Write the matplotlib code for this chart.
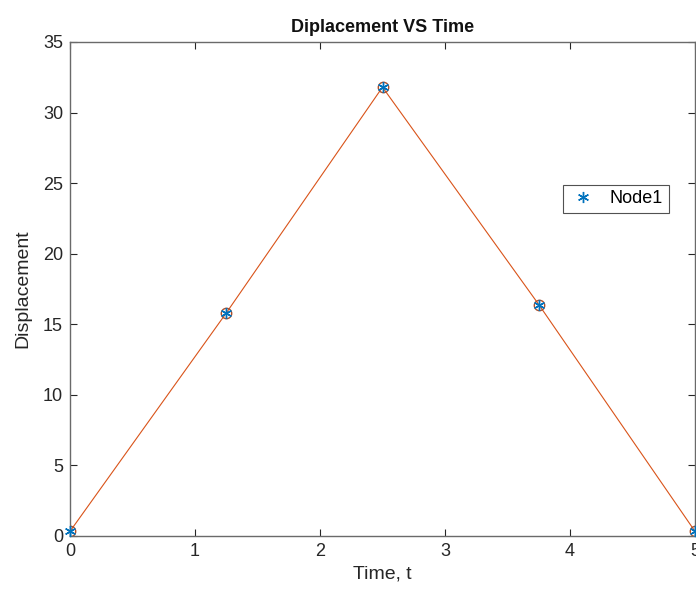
import matplotlib
matplotlib.use("Agg")
import matplotlib.pyplot as plt

t = [0, 1.25, 2.5, 3.75, 5]
disp = [0.33, 15.8, 31.8, 16.4, 0.33]
xticks = [0, 1, 2, 3, 4, 5]
yticks = [0, 5, 10, 15, 20, 25, 30, 35]

plt.rcParams['font.family'] = ['Liberation Sans', 'DejaVu Sans']

fig = plt.figure(figsize=(6.96, 5.95), dpi=100)
ax = fig.add_axes([70/696, 59/595, 625/696, 494/595])

blue = '#0072BD'
orange = '#D95319'
ax.plot(t, disp, '-', color=orange, lw=0.8, marker='o', ms=7.5, mfc='none', mec='#B0502A', mew=1.0, zorder=2)
ax.plot(t, disp, marker=(6, 2, 0), color=blue, ms=8, mew=1.0, ls='none', label='Node1', zorder=3, clip_on=False)

ax.set_xlim(0, 5)
ax.set_ylim(0, 35)
ax.set_xticks(xticks)
ax.set_yticks(yticks)
ax.tick_params(direction='in', length=5, width=0.8, color='#262626', labelsize=13,
               labelcolor='#262626', top=True, right=True, pad=5)
for s in ax.spines.values():
    s.set_color('#6a6a6a')
    s.set_linewidth(1.0)

ax.set_title('Diplacement VS Time', fontsize=13, fontweight='bold', color='#111111', pad=7)
ax.set_xlabel('Time, t', fontsize=14, color='#262626', labelpad=4)
ax.set_ylabel('Displacement', fontsize=14, color='#262626', labelpad=8)

leg = ax.legend(loc='upper left', bbox_to_anchor=(493/625, (494-143)/494), fontsize=13,
                frameon=True, fancybox=False, edgecolor='#262626', borderpad=0.3,
                handlelength=1.6, handletextpad=0.7, borderaxespad=0)
leg.get_frame().set_linewidth(0.8)

fig.savefig('out.png', dpi=100)
